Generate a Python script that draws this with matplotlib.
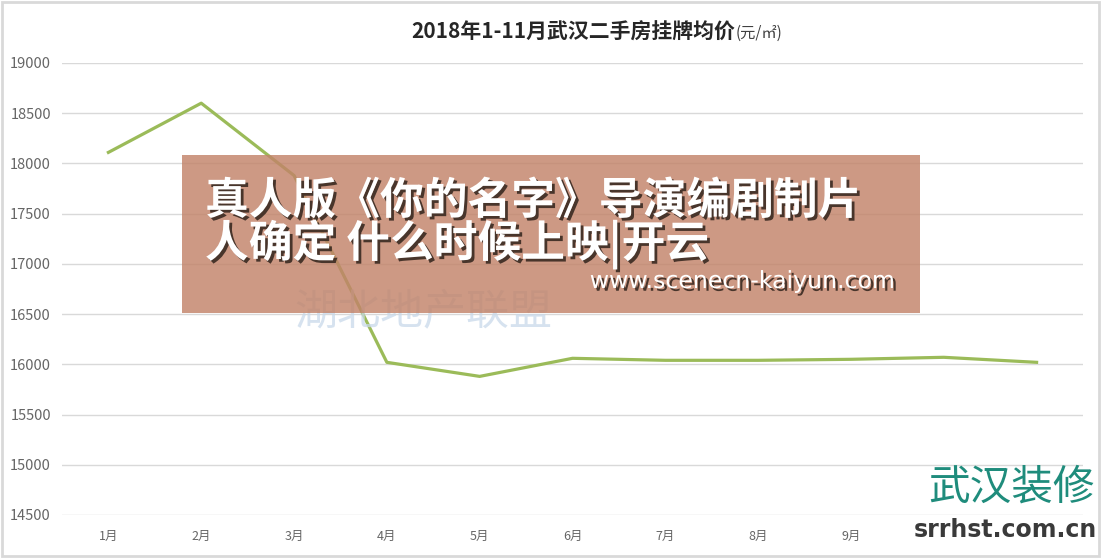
import matplotlib
matplotlib.use("Agg")
import matplotlib.pyplot as plt
import matplotlib.patheffects as pe
from matplotlib.patches import Rectangle

plt.rcParams['font.family'] = ['Noto Sans CJK SC', 'DejaVu Sans']

# 数据
months = ["1月", "2月", "3月", "4月", "5月", "6月", "7月", "8月", "9月", "10月", "11月"]
prices = [18110, 18600, 17880, 16020, 15880, 16060, 16040, 16040, 16050, 16070, 16020]
y_ticks = [14500, 15000, 15500, 16000, 16500, 17000, 17500, 18000, 18500, 19000]

W, H = 1101, 558


def fx(x):
    return x / W


def fy(y):
    return 1 - y / H


fig = plt.figure(figsize=(W / 100, H / 100), dpi=100)
fig.patch.set_facecolor("white")

ax = fig.add_axes([fx(62), fy(515), fx(1083) - fx(62), fy(63) - fy(515)])
x = list(range(1, len(months) + 1))
ax.plot(x, prices, color="#9bbb59", linewidth=2.3, zorder=3)
ax.set_xlim(0.5, 11.5)
ax.set_ylim(14500, 19000)
ax.set_yticks(y_ticks)
ax.set_xticks(x)
ax.set_xticklabels(months)
ax.grid(axis="y", color="#d9d9d9", linewidth=1)
ax.set_axisbelow(True)
for s in ax.spines.values():
    s.set_visible(False)
ax.tick_params(axis="both", length=0, colors="#666666")
ax.tick_params(axis="y", labelsize=10.5, pad=8)
ax.tick_params(axis="x", labelsize=9, pad=11)

# 标题
fig.text(fx(735), fy(32), "2018年1-11月武汉二手房挂牌均价", ha="right", va="center",
         fontsize=15, fontweight="bold", color="#262626")
fig.text(fx(736), fy(33), "(元/㎡)", ha="left", va="center", fontsize=11, color="#404040")

# 水印
fig.text(fx(294), fy(312), "湖北地产联盟", ha="left", va="center", fontsize=31,
         color="#c9d9ea", alpha=0.75, zorder=1)

# 覆盖横幅
banner = Rectangle((fx(182), fy(313)), fx(920) - fx(182), fy(155) - fy(313),
                   transform=fig.transFigure, facecolor="#c28369", alpha=0.82,
                   edgecolor="none", zorder=5)
fig.patches.append(banner)
shadow = [pe.withSimplePatchShadow(offset=(2, -2), shadow_rgbFace="#3a2a22", alpha=0.9)]
fig.text(fx(205), fy(201), "真人版《你的名字》导演编剧制片", ha="left", va="center",
         fontsize=31.5, fontweight="bold", color="white", path_effects=shadow, zorder=6)
fig.text(fx(205), fy(244), "人确定 什么时候上映|开云", ha="left", va="center",
         fontsize=31.5, fontweight="bold", color="white", path_effects=shadow, zorder=6)
fig.text(fx(895), fy(281), "www.scenecn-kaiyun.com", ha="right", va="center",
         fontsize=17, color="white", family="DejaVu Sans", path_effects=shadow, zorder=6)

# 右下角标志
fig.text(fx(1095), fy(488), "武汉装修", ha="right", va="center", fontsize=30,
         color="#1f8c7c", zorder=6)
fig.text(fx(1097), fy(530), "srrhst.com.cn", ha="right", va="center", fontsize=17,
         fontweight="bold", color="#3a3a3a", family="DejaVu Sans", zorder=6,
         bbox=dict(facecolor="white", edgecolor="none", pad=1))

# 外框
frame = Rectangle((0.002, 0.004), 0.996, 0.993, transform=fig.transFigure,
                  facecolor="none", edgecolor="#d9d9d9", linewidth=2, zorder=7)
fig.patches.append(frame)

fig.savefig("out.png", dpi=100)
